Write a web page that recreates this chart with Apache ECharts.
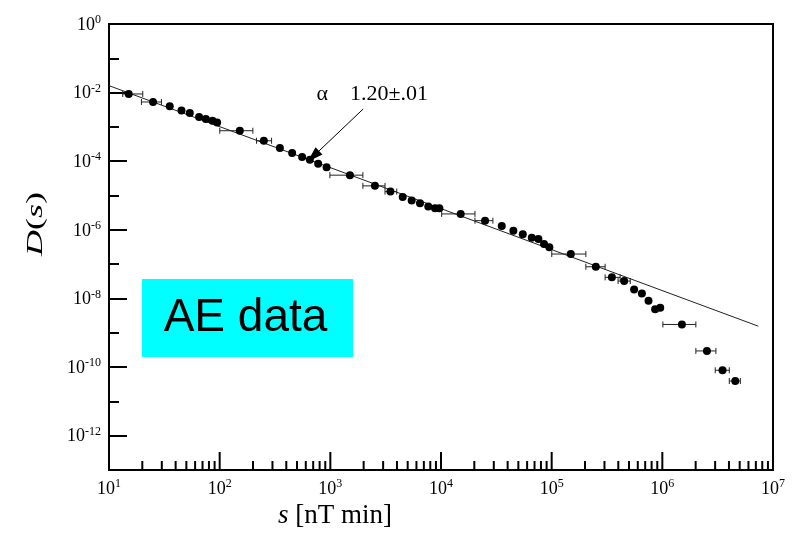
<!DOCTYPE html>
<html><head><meta charset="utf-8">
<script src="https://cdn.jsdelivr.net/npm/echarts@6/dist/echarts.min.js"></script>
<style>html,body{margin:0;padding:0;background:#fff}#c{width:800px;height:542px}</style>
</head><body><div id="c"></div>
<script>
// log10(s) and log10(D) of the data points
const logS = [1.178,1.398,1.549,1.655,1.730,1.814,1.875,1.935,1.977,2.182,2.399,2.544,2.655,2.745,2.815,2.890,2.966,
  3.177,3.403,3.543,3.654,3.735,3.810,3.885,3.946,3.985,4.178,4.398,4.549,4.654,4.739,4.820,4.880,4.931,4.979,
  5.173,5.399,5.544,5.655,5.745,5.815,5.875,5.935,5.981,6.177,6.403,6.544,6.659];
const logD = [-2.039,-2.273,-2.401,-2.518,-2.594,-2.711,-2.770,-2.819,-2.869,-3.111,-3.403,-3.617,-3.763,-3.880,-3.959,-4.075,-4.172,
  -4.406,-4.718,-4.885,-5.039,-5.142,-5.223,-5.323,-5.370,-5.370,-5.536,-5.732,-5.887,-6.024,-6.129,-6.229,-6.266,-6.412,-6.509,
  -6.705,-7.076,-7.385,-7.493,-7.736,-7.853,-8.069,-8.311,-8.273,-8.758,-9.530,-10.093,-10.406];
// horizontal error bars: point index, low and high log10(s)
const errIdx = [0,1,9,10,17,18,19,26,27,35,36,37,38,44,45,46,47];
const errLo  = [1.124,1.293,2.001,2.333,2.996,3.294,3.494,4.006,4.307,5.001,5.309,5.483,5.600,6.005,6.303,6.478,6.605];
const errHi  = [1.305,1.474,2.300,2.469,3.294,3.494,3.600,4.307,4.469,5.309,5.483,5.619,5.710,6.303,6.484,6.605,6.705];
// power-law fit line (log10 s, log10 D)
const fitS = [1.0, 6.867];
const fitD = [-1.797, -8.808];
// annotation arrow (log10 s, log10 D)
const arrowFrom = [3.297, -2.477];
const arrowTo = [2.845, -3.862];
const xTickExp = [1,2,3,4,5,6,7];
const yTickExp = [0,-2,-4,-6,-8,-10,-12];

const serif = "'Liberation Serif','Times New Roman',serif";
const xTicks = [];
for (let k = 1; k < 7; k++) for (let m = 2; m <= 9; m++) xTicks.push([k + Math.log10(m), 9]);
xTickExp.forEach(e => xTicks.push([e, 18]));

const chart = echarts.init(document.getElementById('c'), null, {renderer:'canvas'});
const supRich = {
  b:{fontSize:18, fontFamily:serif, color:'#000', lineHeight:20, verticalAlign:'bottom'},
  s:{fontSize:12, fontFamily:serif, color:'#000', lineHeight:12, verticalAlign:'top'}
};
chart.setOption({
  animation:false,
  backgroundColor:'#fff',
  grid:{left:109, right:27, top:24, bottom:72, show:true, borderColor:'#000', borderWidth:2},
  xAxis:{type:'value', min:1, max:7, interval:1, position:'bottom',
    axisLine:{onZero:false, lineStyle:{color:'#000', width:2}},
    axisTick:{show:false},
    splitLine:{show:false},
    axisLabel:{margin:8, formatter:v => xTickExp.indexOf(v) >= 0 ? '{b|10}{s|' + v + '}' : '', rich:supRich}
  },
  yAxis:[
    {type:'value', min:-13, max:0, interval:1, position:'left',
      axisLine:{onZero:false, lineStyle:{color:'#000', width:2}},
      axisTick:{inside:true, length:10, lineStyle:{color:'#000', width:2}},
      splitLine:{show:false}, axisLabel:{show:false}},
    {type:'value', position:'left', inverse:true, min:0, max:13, interval:2,
      axisLine:{show:false, onZero:false},
      axisTick:{inside:true, length:18, lineStyle:{color:'#000', width:2}},
      splitLine:{show:false},
      axisLabel:{margin:8, formatter:v => yTickExp.indexOf(-v) >= 0 ? '{b|10}{s|' + (v === 0 ? '0' : '-' + v) + '}' : '', rich:supRich}}
  ],
  series:[
    {type:'line', data:fitS.map((s,i)=>[s, fitD[i]]), showSymbol:false, symbol:'none',
      lineStyle:{color:'#222', width:1}, z:2,
      markLine:{silent:true, symbol:['none','triangle'], symbolSize:[10,16],
        lineStyle:{color:'#000', width:1, type:'solid'}, label:{show:false},
        data:[[{coord:arrowFrom},{coord:arrowTo}]]}},
    {type:'custom', z:3, data:errIdx.map((p,i)=>[errLo[i], errHi[i], logD[p]]),
      renderItem:(params, api) => {
        const a = api.coord([api.value(0), api.value(2)]);
        const b = api.coord([api.value(1), api.value(2)]);
        const st = {stroke:'#222', lineWidth:1};
        return {type:'group', children:[
          {type:'line', shape:{x1:a[0], y1:a[1], x2:b[0], y2:b[1]}, style:st},
          {type:'line', shape:{x1:a[0], y1:a[1]-3, x2:a[0], y2:a[1]+3}, style:st},
          {type:'line', shape:{x1:b[0], y1:b[1]-3, x2:b[0], y2:b[1]+3}, style:st}
        ]};
      }},
    {type:'scatter', data:logS.map((s,i)=>[s, logD[i]]), symbol:'circle', symbolSize:8,
      itemStyle:{color:'#000', opacity:1}, z:4},
    {type:'custom', z:5, data:xTicks, clip:false,
      renderItem:(params, api) => {
        const p = api.coord([api.value(0), -13]);
        return {type:'line', shape:{x1:p[0], y1:p[1], x2:p[0], y2:p[1]-api.value(1)}, style:{stroke:'#000', lineWidth:2}};
      }}
  ],
  graphic:[
    {type:'rect', left:142, top:279, shape:{width:211, height:78}, style:{fill:'#00FFFF'}, z:10},
    {type:'text', x:245.5, y:318, style:{text:'AE data', font:"46px 'Liberation Sans', Arial, sans-serif", fill:'#000', align:'center', verticalAlign:'middle'}, z:11},
    {type:'text', x:316.5, y:94, style:{text:'\u03b1', font:'22px ' + serif, fill:'#000', align:'left', verticalAlign:'middle'}, z:11},
    {type:'text', x:350, y:94, style:{text:'1.20\u00b1.01', font:'22px ' + serif, fill:'#000', align:'left', verticalAlign:'middle'}, z:11},
    {type:'text', x:278, y:516, style:{text:'{i|s} [nT min]', fill:'#000', align:'left', verticalAlign:'middle',
      font:'27px ' + serif,
      rich:{i:{fontSize:27, fontFamily:serif, fontStyle:'italic', fill:'#000'}}}, z:11},
    {type:'text', x:36, y:224, rotation:Math.PI/2, scaleY:0.62,
      style:{text:'{i|D}({i|s})', fill:'#000', align:'center', verticalAlign:'middle', font:'36px ' + serif,
      rich:{i:{fontSize:36, fontFamily:serif, fontStyle:'italic', fill:'#000'}}}, z:11}
  ]
});
</script></body></html>
